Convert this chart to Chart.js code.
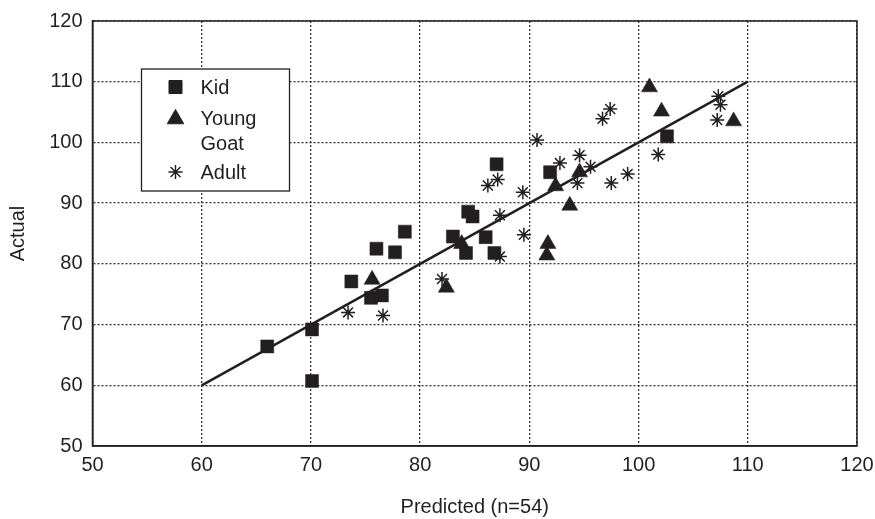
<!DOCTYPE html>
<html>
<head>
<meta charset="utf-8">
<title>Actual vs Predicted</title>
<script src="https://cdn.jsdelivr.net/npm/chart.js@4.4.1/dist/chart.umd.min.js"></script>
<style>
  html, body { margin: 0; padding: 0; background: #fff; }
  #wrap { width: 875px; height: 519px; }
</style>
</head>
<body>
<div id="wrap"><canvas id="grafico"></canvas></div>
<script>
// Kid
const kidPred = [66.0, 70.1, 70.1, 73.7, 75.5, 76.5, 76.0, 77.7, 78.6, 83.0, 84.2, 86.0, 86.8, 84.4, 84.8, 87.0, 91.9, 102.6];
const kidReal = [66.4, 69.2, 60.7, 77.1, 74.4, 74.8, 82.5, 81.9, 85.3, 84.5, 81.8, 84.4, 81.8, 88.6, 87.8, 96.4, 95.1, 101.0];

// Young goat
const youngPred = [75.6, 82.4, 83.8, 91.7, 91.6, 92.4, 93.7, 94.6, 101.0, 102.1, 108.7];
const youngReal = [77.4, 76.1, 83.3, 83.3, 81.4, 92.8, 89.6, 95.1, 109.1, 105.1, 103.5];

// Adult
const adultPred = [73.4, 76.6, 82.0, 87.3, 89.5, 87.3, 86.2, 87.1, 89.4, 90.7, 92.8, 94.6, 95.6, 94.4, 97.5, 99.0, 96.7, 97.4, 101.8, 107.3, 107.5, 107.2];
const adultReal = [72.0, 71.5, 77.5, 81.2, 84.8, 88.0, 92.9, 93.9, 91.8, 100.4, 96.6, 97.9, 96.0, 93.3, 93.3, 94.8, 103.9, 105.5, 98.0, 107.6, 106.2, 103.7];

// reference line
const fitX = [60, 110];
const fitY = [60, 110];

// axes
const axisMin = 50;
const axisMax = 120;
const axisStep = 10;

const INK = "#231f20";
const FONT = "'Liberation Sans', Arial, Helvetica, sans-serif";

const pts = (xs, ys) => xs.map((x, i) => ({ x: x, y: ys[i] }));

// marco completo del área de trazado
const marco = {
  id: "marco",
  beforeDatasetsDraw(chart) {
    const { ctx, chartArea: a } = chart;
    ctx.save();
    ctx.strokeStyle = INK;
    ctx.lineWidth = 1.5;
    ctx.strokeRect(a.left, a.top, a.right - a.left, a.bottom - a.top);
    ctx.restore();
  },
};

// leyenda dentro del gráfico
const leyenda = {
  id: "leyenda",
  afterDatasetsDraw(chart) {
    const { ctx, chartArea: a } = chart;
    const x0 = a.left + 49;
    const y0 = a.top + 48;
    ctx.save();
    ctx.fillStyle = "#fff";
    ctx.fillRect(x0, y0, 148, 122);
    ctx.strokeStyle = INK;
    ctx.lineWidth = 1.3;
    ctx.strokeRect(x0, y0, 148, 122);

    const mx = x0 + 34;
    const marcas = [
      { pointStyle: "rect", radius: 9.2, y: y0 + 18 },
      { pointStyle: "triangle", radius: 9.5, y: y0 + 50 },
      { pointStyle: "star", radius: 7, y: y0 + 103 },
    ];
    ctx.fillStyle = INK;
    ctx.strokeStyle = INK;
    marcas.forEach((m) => {
      ctx.lineWidth = m.pointStyle === "star" ? 1.4 : 1;
      Chart.helpers.drawPoint(ctx, { pointStyle: m.pointStyle, radius: m.radius, rotation: 0, borderWidth: ctx.lineWidth }, mx, m.y);
    });

    ctx.font = "20px " + FONT;
    ctx.textAlign = "left";
    ctx.textBaseline = "middle";
    const tx = x0 + 59;
    ctx.fillText("Kid", tx, y0 + 19);
    ctx.fillText("Young", tx, y0 + 50);
    ctx.fillText("Goat", tx, y0 + 75);
    ctx.fillText("Adult", tx, y0 + 104);
    ctx.restore();
  },
};

const grid = {
  color: "#333",
  lineWidth: 1.3,
  drawTicks: false,
};

new Chart(document.getElementById("grafico"), {
  type: "scatter",
  data: {
    datasets: [
      {
        type: "line",
        label: "fit",
        data: pts(fitX, fitY),
        borderColor: INK,
        borderWidth: 2.5,
        pointRadius: 0,
        fill: false,
      },
      {
        label: "Kid",
        data: pts(kidPred, kidReal),
        pointStyle: "rect",
        pointRadius: 9.2,
        backgroundColor: INK,
        borderColor: INK,
        borderWidth: 0.5,
      },
      {
        label: "Young Goat",
        data: pts(youngPred, youngReal),
        pointStyle: "triangle",
        pointRadius: 9.3,
        backgroundColor: INK,
        borderColor: INK,
        borderWidth: 0.5,
      },
      {
        label: "Adult",
        data: pts(adultPred, adultReal),
        pointStyle: "star",
        pointRadius: 7,
        backgroundColor: INK,
        borderColor: INK,
        borderWidth: 1.5,
      },
    ],
  },
  options: {
    responsive: true,
    maintainAspectRatio: false,
    animation: false,
    layout: { padding: { top: 21, right: 18, left: 0, bottom: 0 } },
    plugins: {
      legend: { display: false },
      tooltip: { enabled: false },
    },
    scales: {
      x: {
        type: "linear",
        min: axisMin,
        max: axisMax,
        ticks: { stepSize: axisStep, color: INK, font: { family: FONT, size: 20 }, padding: 7 },
        grid: { ...grid },
        border: { display: true, color: INK, width: 1.5, dash: [2, 2] },
        title: { display: true, text: "Predicted (n=54)", color: INK, font: { family: FONT, size: 20 }, padding: { top: 0, bottom: 0 } },
        afterFit: (s) => { s.height = 73; s.paddingLeft = 0; s.paddingRight = 0; },
      },
      y: {
        type: "linear",
        min: axisMin,
        max: axisMax,
        ticks: { stepSize: axisStep, color: INK, font: { family: FONT, size: 20 }, padding: 10 },
        grid: { ...grid },
        border: { display: true, color: INK, width: 1.5, dash: [2, 2] },
        title: { display: true, text: "Actual", color: INK, font: { family: FONT, size: 20 }, padding: { top: 6, bottom: 0 } },
        afterFit: (s) => { s.width = 92.5; s.paddingTop = 0; s.paddingBottom = 0; },
      },
    },
  },
  plugins: [marco, leyenda],
});
</script>
</body>
</html>
